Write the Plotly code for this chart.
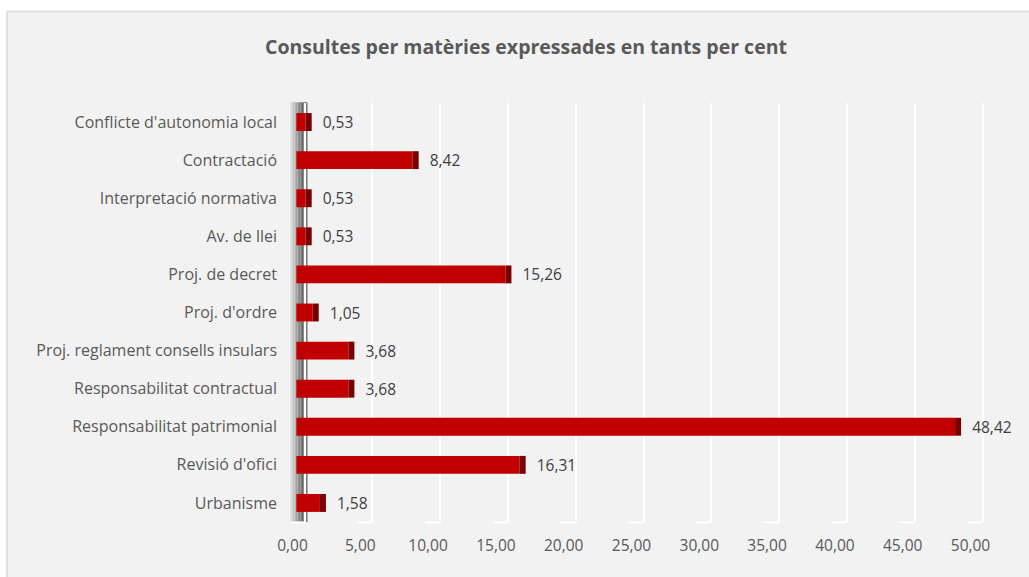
import plotly.graph_objects as go

categories = [
    "Conflicte d'autonomia local",
    "Contractació",
    "Interpretació normativa",
    "Av. de llei",
    "Proj. de decret",
    "Proj. d'ordre",
    "Proj. reglament consells insulars",
    "Responsabilitat contractual",
    "Responsabilitat patrimonial",
    "Revisió d'ofici",
    "Urbanisme",
]
values = [0.53, 8.42, 0.53, 0.53, 15.26, 1.05, 3.68, 3.68, 48.42, 16.31, 1.58]
tick_vals = [0, 5, 10, 15, 20, 25, 30, 35, 40, 45, 50]
tick_text = ["0,00", "5,00", "10,00", "15,00", "20,00", "25,00", "30,00", "35,00", "40,00", "45,00", "50,00"]
title = "Consultes per matèries expressades en tants per cent"

FONT = "Open Sans"
W, H = 1029, 577
L, R, T, B = 290, 43, 103, 55
PX_PER_UNIT = 13.56
ZERO_PX = 304.5
xmin = (L - ZERO_PX) / PX_PER_UNIT
xmax = (W - R - ZERO_PX) / PX_PER_UNIT
base0 = -0.6
capw = 6 / PX_PER_UNIT

labels = ["\u00a0\u00a0" + f"{v:.2f}".replace(".", ",") for v in values]

fig = go.Figure()
fig.add_trace(go.Bar(
    y=categories, x=[v - capw - base0 for v in values], base=[base0] * len(values),
    orientation="h", marker=dict(color="#C00000", line=dict(width=0)),
    hoverinfo="skip", showlegend=False,
))
fig.add_trace(go.Bar(
    y=categories, x=[capw] * len(values), base=[v - capw for v in values],
    orientation="h", marker=dict(color="#7A0000", line=dict(width=0)),
    text=labels, textposition="outside", cliponaxis=False, constraintext="none",
    textfont=dict(family=FONT, size=15.5, color="#404040"),
    hoverinfo="skip", showlegend=False,
))

shapes = []
x_of = lambda px: (px - L) / (W - L - R)
y_of = lambda py: 1 - (py - T) / (H - T - B)
shapes.append(dict(type="rect", xref="paper", yref="paper",
                   x0=x_of(7), x1=x_of(W + 5), y0=y_of(11.5), y1=y_of(H + 5),
                   fillcolor="#F2F2F2", line=dict(color="#D9D9D9", width=1.5), layer="below"))
# 3D wall (gradient approximated with strips)
wall = [(-14.5, -13, "#E0E0E0"), (-13, -11.5, "#CFCFCF"), (-11.5, -10, "#C2C2C2"),
        (-10, -8.5, "#B3B3B3"), (-8.5, -7, "#A3A3A3"), (-7, -5.5, "#939393"),
        (-5.5, -4, "#858585"), (-4, -2.5, "#787878"), (-2.5, -1, "#6C6C6C"),
        (-1, 1.5, "#626262"), (1.5, 2.5, "#7A7A7A"), (2.5, 3.5, "#B0B0B0")]
for x0, x1, c in wall:
    shapes.append(dict(type="rect", xref="x", yref="paper", xsizemode="pixel", xanchor=0,
                       x0=x0, x1=x1, y0=0, y1=1.002, fillcolor=c, line=dict(width=0), layer="below"))
for tv in tick_vals:
    shapes.append(dict(type="line", xref="x", yref="paper", xsizemode="pixel", xanchor=tv,
                       x0=-15, x1=0, y0=-0.001, y1=-0.001, line=dict(color="white", width=2), layer="below"))

fig.update_layout(
    width=W, height=H,
    margin=dict(l=L, r=R, t=T, b=B),
    paper_bgcolor="white",
    plot_bgcolor="rgba(0,0,0,0)",
    barmode="overlay",
    bargap=0.53,
    title=dict(text="<b>" + title + "</b>", x=526 / W, xanchor="center", y=1 - 47 / H, yanchor="middle",
               font=dict(family=FONT, size=19.5, color="#595959")),
    shapes=shapes,
    xaxis=dict(range=[xmin, xmax], tickvals=tick_vals, ticktext=tick_text,
               showgrid=True, gridcolor="white", gridwidth=2, zeroline=False,
               showline=False, ticks="", ticklabelshift=-12, ticklabelstandoff=12,
               tickfont=dict(family=FONT, size=15.5, color="#595959")),
    yaxis=dict(autorange="reversed", showgrid=False, zeroline=False, showline=False,
               ticks="", ticklabelstandoff=12,
               tickfont=dict(family=FONT, size=16, color="#595959")),
)

fig.write_html("out.html", config={"displayModeBar": False},
               post_script="document.body.style.margin='0';")
